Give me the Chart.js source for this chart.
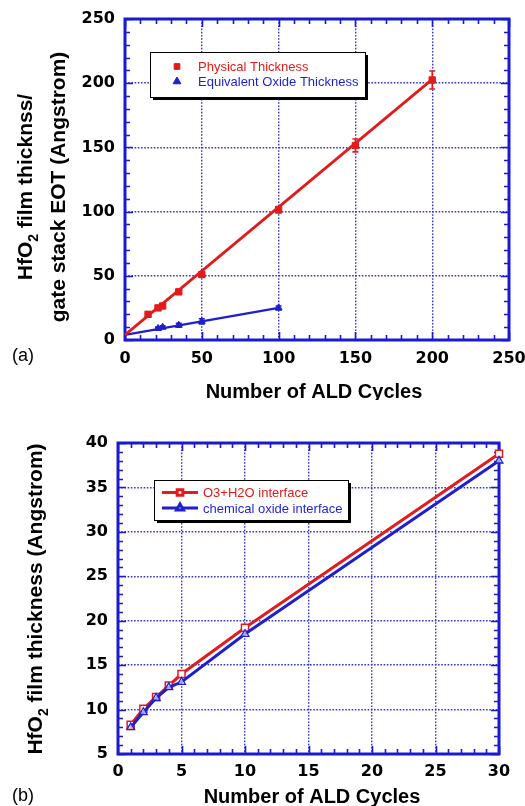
<!DOCTYPE html>
<html><head><meta charset="utf-8">
<script src="https://cdn.jsdelivr.net/npm/chart.js@4.4.0/dist/chart.umd.min.js"></script>
<style>
html,body{margin:0;padding:0;background:#fff;}
#wrap{position:relative;width:525px;height:806px;overflow:hidden;background:#fff;}
canvas{position:absolute;left:0;}
</style></head><body>
<div id="wrap">
<canvas id="c1" width="525" height="400" style="top:0px"></canvas>
<canvas id="c2" width="525" height="406" style="top:400px"></canvas>
</div>
<script>
// ---------- Panel (a) data ----------
const physCycles = [15, 21.5, 24.5, 35, 50, 100, 150, 200];
const physThick  = [20, 25, 26.5, 37.5, 51, 101.5, 151.5, 202.5];
const physErr    = [1.5, 1.5, 1.5, 1.5, 2, 2.5, 5, 7];
const eotCycles  = [21.5, 24.5, 35, 50, 100];
const eotThick   = [9, 10, 11.5, 14.5, 25];
const eotErr     = [1, 1, 1.5, 2, 1.5];
const physFitCycles = [0, 200];
const physFitThick  = [4, 203];
const eotFitCycles  = [0, 100];
const eotFitThick   = [4, 25];
const xTicksA = [0, 50, 100, 150, 200, 250];
const yTicksA = [0, 50, 100, 150, 200, 250];

// ---------- Panel (b) data ----------
const cyclesB = [1, 2, 3, 4, 5, 10, 30];
const o3h2o   = [8.3, 10.1, 11.4, 12.7, 14.0, 19.2, 38.8];
const chemOx  = [8.0, 9.7, 11.3, 12.5, 13.1, 18.5, 38.0];
const xTicksB = [0, 5, 10, 15, 20, 25, 30];
const yTicksB = [5, 10, 15, 20, 25, 30, 35, 40];

const RED = '#e21b1b';
const BLUE = '#1f1fd0';
const FRAME = '#1a1ad2';
const GRID = '#3535dc';
const pts = (xs, ys) => xs.map((v, i) => ({x: v, y: ys[i]}));

// frame + inward ticks on all four sides
const framePlugin = {
  id: 'frame',
  beforeDatasetsDraw(chart, args, o) {
    const {ctx, chartArea: a} = chart;
    const x = chart.scales.x, y = chart.scales.y;
    ctx.save();
    ctx.strokeStyle = FRAME;
    ctx.lineWidth = 1.6;
    ctx.beginPath();
    const isMajor = (v, m) => Math.abs(v / m - Math.round(v / m)) < 1e-6;
    for (let v = x.min; v <= x.max + 1e-9; v += o.minorX) {
      const len = isMajor(v, o.majorX) ? 8 : 5;
      const p = Math.round(x.getPixelForValue(v)) + 0.5;
      ctx.moveTo(p, a.bottom); ctx.lineTo(p, a.bottom - len);
      ctx.moveTo(p, a.top); ctx.lineTo(p, a.top + len);
    }
    for (let v = y.min; v <= y.max + 1e-9; v += o.minorY) {
      const len = isMajor(v, o.majorY) ? 8 : 5;
      const p = Math.round(y.getPixelForValue(v)) + 0.5;
      ctx.moveTo(a.left, p); ctx.lineTo(a.left + len, p);
      ctx.moveTo(a.right, p); ctx.lineTo(a.right - len, p);
    }
    ctx.stroke();
    ctx.lineWidth = 3;
    ctx.strokeRect(a.left, a.top, a.right - a.left, a.bottom - a.top);
    ctx.restore();
  }
};

// error bars from dataset.errors
const errorPlugin = {
  id: 'errbars',
  afterDatasetsDraw(chart) {
    const {ctx} = chart;
    const x = chart.scales.x, y = chart.scales.y;
    chart.data.datasets.forEach(ds => {
      if (!ds.errors) return;
      ctx.save();
      ctx.strokeStyle = ds.borderColor;
      ctx.lineWidth = 1.6;
      ctx.beginPath();
      ds.data.forEach((d, i) => {
        const px = x.getPixelForValue(d.x);
        const y1 = y.getPixelForValue(d.y + ds.errors[i]);
        const y2 = y.getPixelForValue(d.y - ds.errors[i]);
        ctx.moveTo(px, y1); ctx.lineTo(px, y2);
        ctx.moveTo(px - 3, y1); ctx.lineTo(px + 3, y1);
        ctx.moveTo(px - 3, y2); ctx.lineTo(px + 3, y2);
      });
      ctx.stroke();
      ctx.restore();
    });
  }
};

// boxed legend with shadow, inside the plot
const boxLegendPlugin = {
  id: 'boxLegend',
  afterDraw(chart, args, o) {
    const {ctx, chartArea: a} = chart;
    const bx = a.left + o.dx, by = a.top + o.dy;
    ctx.save();
    ctx.fillStyle = '#000';
    ctx.fillRect(bx + 3, by + 3, o.w, o.h);
    ctx.fillStyle = '#fff';
    ctx.fillRect(bx, by, o.w, o.h);
    ctx.strokeStyle = '#000';
    ctx.lineWidth = 1;
    ctx.strokeRect(bx + 0.5, by + 0.5, o.w, o.h);
    o.items.forEach((it, i) => {
      const ry = by + o.rows[i];
      if (it.line) {
        ctx.strokeStyle = it.color; ctx.lineWidth = 3;
        ctx.beginPath(); ctx.moveTo(bx + o.lineX0, ry); ctx.lineTo(bx + o.lineX1, ry); ctx.stroke();
      }
      ctx.fillStyle = it.fill; ctx.strokeStyle = it.color;
      Chart.helpers.drawPoint(ctx, {pointStyle: it.style, radius: it.radius, borderWidth: it.bw, rotation: 0}, bx + o.markX, ry);
      ctx.fillStyle = it.color;
      ctx.font = '13px "Liberation Sans", Arial, sans-serif';
      ctx.textBaseline = 'middle'; ctx.textAlign = 'left';
      ctx.fillText(it.text, bx + o.textX, ry + 1);
    });
    ctx.restore();
  }
};

// axis titles and panel label
const titlesPlugin = {
  id: 'titles',
  afterDraw(chart, args, o) {
    const {ctx} = chart;
    ctx.save();
    ctx.fillStyle = '#000';
    ctx.font = 'bold 20px "Liberation Sans", Arial, sans-serif';
    ctx.textAlign = 'center'; ctx.textBaseline = 'alphabetic';
    ctx.fillText(o.xTitle.text, o.xTitle.x, o.xTitle.y);
    o.yLines.forEach(line => {
      ctx.save();
      ctx.translate(line.x, o.yCenter);
      ctx.rotate(-Math.PI / 2);
      const big = 'bold 21px "Liberation Sans", Arial, sans-serif';
      const small = 'bold 14px "Liberation Sans", Arial, sans-serif';
      let total = 0;
      line.parts.forEach(p => { ctx.font = p.sub ? small : big; total += ctx.measureText(p.t).width; });
      let cx = -total / 2;
      ctx.textAlign = 'left';
      line.parts.forEach(p => {
        ctx.font = p.sub ? small : big;
        ctx.fillText(p.t, cx, p.sub ? 6 : 0);
        cx += ctx.measureText(p.t).width;
      });
      ctx.restore();
    });
    ctx.font = '18px "Liberation Sans", Arial, sans-serif';
    ctx.textAlign = 'left';
    ctx.fillText(o.panel.text, o.panel.x, o.panel.y);
    ctx.restore();
  }
};

const tickFont = {family: '"DejaVu Sans", sans-serif', size: 16, weight: 'bold'};
function axis(min, max, ticksArr, pad, fit) {
  return {
    type: 'linear', min: min, max: max,
    afterBuildTicks: s => { s.ticks = ticksArr.map(v => ({value: v})); },
    afterFit: s => { fit(s); s.paddingLeft = 0; s.paddingRight = 0; s.paddingTop = 0; s.paddingBottom = 0; },
    ticks: {font: tickFont, color: '#000', padding: pad, autoSkip: false},
    grid: {color: GRID, lineWidth: 1.4, drawTicks: false},
    border: {display: false, dash: [1.6, 1.6]}
  };
}

// ---------- Chart (a) ----------
new Chart(document.getElementById('c1'), {
  type: 'scatter',
  data: {datasets: [
    {data: pts(physCycles, physThick), errors: physErr, borderColor: RED, backgroundColor: RED,
     pointStyle: 'rect', pointRadius: 4.5, showLine: false, clip: false},
    {data: pts(eotCycles, eotThick), errors: eotErr, borderColor: BLUE, backgroundColor: BLUE,
     pointStyle: 'triangle', pointRadius: 4, showLine: false, clip: false},
    {data: pts(physFitCycles, physFitThick), borderColor: RED, borderWidth: 2.8, pointRadius: 0, showLine: true, clip: false},
    {data: pts(eotFitCycles, eotFitThick), borderColor: BLUE, borderWidth: 2.4, pointRadius: 0, showLine: true, clip: false}
  ]},
  options: {
    responsive: false, animation: false, devicePixelRatio: 1,
    layout: {padding: {top: 19, right: 16, left: 0, bottom: 0}},
    scales: {
      x: axis(0, 250, xTicksA, 9, s => { s.height = 60; }),
      y: axis(0, 250, yTicksA, 10, s => { s.width = 125; })
    },
    plugins: {
      legend: {display: false}, tooltip: {enabled: false},
      frame: {minorX: 10, majorX: 50, minorY: 10, majorY: 50},
      boxLegend: {dx: 25, dy: 33, w: 215, h: 45, rows: [14.5, 29.5], markX: 27, textX: 48,
        items: [
          {text: 'Physical Thickness', color: RED, fill: RED, style: 'rect', radius: 4, bw: 1},
          {text: 'Equivalent Oxide Thickness', color: BLUE, fill: BLUE, style: 'triangle', radius: 4.5, bw: 1}
        ]},
      titles: {
        xTitle: {text: 'Number of ALD Cycles', x: 314, y: 398},
        yCenter: 187,
        yLines: [
          {x: 32, parts: [{t: 'HfO'}, {t: '2', sub: true}, {t: ' film thicknss/'}]},
          {x: 65, parts: [{t: 'gate stack EOT (Angstrom)'}]}
        ],
        panel: {text: '(a)', x: 12, y: 361}
      }
    }
  },
  plugins: [framePlugin, errorPlugin, boxLegendPlugin, titlesPlugin]
});

// ---------- Chart (b) ----------
new Chart(document.getElementById('c2'), {
  type: 'scatter',
  data: {datasets: [
    {data: pts(cyclesB, o3h2o), borderColor: RED, backgroundColor: '#fff', borderWidth: 3,
     pointStyle: 'rect', pointRadius: 5, pointBorderWidth: 1.5, pointBorderColor: RED, pointBackgroundColor: '#fff',
     showLine: true, clip: false, order: 1},
    {data: pts(cyclesB, chemOx), borderColor: BLUE, backgroundColor: '#fff', borderWidth: 3,
     pointStyle: 'triangle', pointRadius: 4.5, pointBorderWidth: 1.3, pointBorderColor: BLUE, pointBackgroundColor: 'rgba(255,255,255,0.6)',
     showLine: true, clip: false, order: 0}
  ]},
  options: {
    responsive: false, animation: false, devicePixelRatio: 1,
    layout: {padding: {top: 43, right: 26, left: 0, bottom: 0}},
    scales: {
      x: axis(0, 30, xTicksB, 8, s => { s.height = 52; }),
      y: axis(5, 40, yTicksB, 10, s => { s.width = 118; })
    },
    plugins: {
      legend: {display: false}, tooltip: {enabled: false},
      frame: {minorX: 1, majorX: 5, minorY: 1, majorY: 5},
      boxLegend: {dx: 36, dy: 37, w: 194, h: 40, rows: [12.5, 28], markX: 26, lineX0: 8, lineX1: 44, textX: 49,
        items: [
          {text: 'O3+H2O interface', color: RED, fill: '#fff', style: 'rect', radius: 4, bw: 1.3, line: true},
          {text: 'chemical oxide interface', color: BLUE, fill: '#fff', style: 'triangle', radius: 4, bw: 1.2, line: true}
        ]},
      titles: {
        xTitle: {text: 'Number of ALD Cycles', x: 312, y: 403},
        yCenter: 199,
        yLines: [
          {x: 42, parts: [{t: 'HfO'}, {t: '2', sub: true}, {t: ' film thickness (Angstrom)'}]}
        ],
        panel: {text: '(b)', x: 12, y: 401}
      }
    }
  },
  plugins: [framePlugin, errorPlugin, boxLegendPlugin, titlesPlugin]
});
</script>
</body></html>
